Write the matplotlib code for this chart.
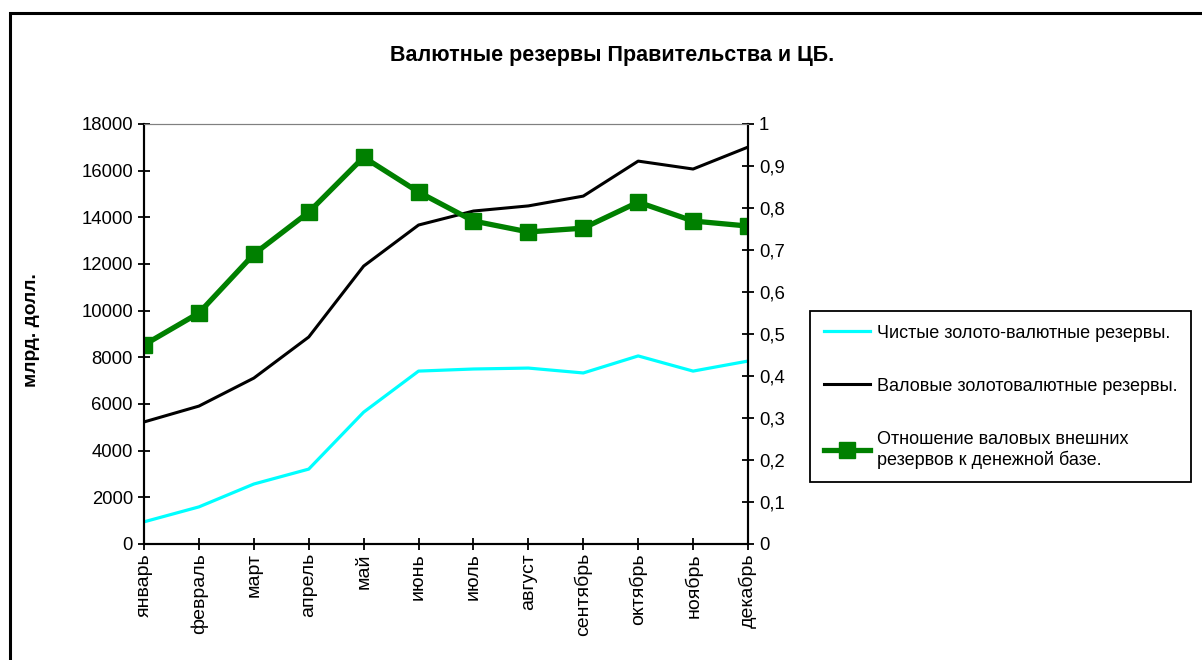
import matplotlib.pyplot as plt
from matplotlib.patches import Rectangle

plt.rcParams['font.family'] = ['Liberation Sans', 'DejaVu Sans']

months = ['январь', 'февраль', 'март', 'апрель', 'май', 'июнь',
          'июль', 'август', 'сентябрь', 'октябрь', 'ноябрь', 'декабрь']

# млрд. долл.
net_reserves = [950, 1590, 2570, 3210, 5650, 7410, 7500, 7540, 7330, 8060, 7410, 7840]
gross_reserves = [5230, 5910, 7110, 8870, 11910, 13670, 14270, 14490, 14910, 16410, 16070, 17010]
# отношение к денежной базе
ratio = [0.474, 0.55, 0.69, 0.79, 0.921, 0.838, 0.769, 0.743, 0.752, 0.814, 0.769, 0.757]

left_ticks = list(range(0, 18001, 2000))
right_ticks = [i / 10 for i in range(11)]
right_labels = ['0'] + ['0,%d' % i for i in range(1, 10)] + ['1']

fs = 13.3

fig = plt.figure(figsize=(12.02, 6.6), dpi=100)
fig.patches.append(Rectangle((10 / 1202, -0.1), 1.2, 1 - 13 / 660 + 0.1,
                             transform=fig.transFigure, fill=False,
                             edgecolor='black', linewidth=2.2))

ax = fig.add_axes([144 / 1202, 1 - 544 / 660, 604 / 1202, 420 / 660])
x = range(len(months))
l1, = ax.plot(x, net_reserves, color='#00FFFF', linewidth=2.3,
              label='Чистые золото-валютные резервы.')
l2, = ax.plot(x, gross_reserves, color='black', linewidth=2.2,
              label='Валовые золотовалютные резервы.')
ax.set_xlim(0, len(months) - 1)
ax.set_ylim(0, 18000)
ax.set_yticks(left_ticks)
ax.set_xticks(list(x))
ax.set_xticklabels(months, rotation=90, fontsize=14)
ax.tick_params(axis='y', labelsize=fs, direction='inout', length=9, width=1.3)
ax.tick_params(axis='x', direction='inout', length=9, width=1.3, pad=2)

ax2 = ax.twinx()
l3, = ax2.plot(x, ratio, color='#008000', linewidth=3.8, marker='s',
               markersize=12, label='Отношение валовых внешних\nрезервов к денежной базе.')
ax2.set_ylim(0, 1)
ax2.set_yticks(right_ticks)
ax2.set_yticklabels(right_labels)
ax2.tick_params(axis='y', labelsize=fs, direction='inout', length=9, width=1.3)

for a in (ax, ax2):
    a.spines['top'].set_color('#808080')
    a.spines['left'].set_linewidth(1.5)
    a.spines['right'].set_linewidth(1.5)
    a.spines['bottom'].set_linewidth(1.5)

fig.text(612 / 1202, 1 - 55 / 660, 'Валютные резервы Правительства и ЦБ.',
         ha='center', va='center', fontsize=15.5, fontweight='bold')
fig.text(31 / 1202, 1 - 330 / 660, 'млрд. долл.', rotation=90,
         ha='center', va='center', fontsize=13.8, fontweight='bold')

leg = fig.legend(handles=[l1, l2, l3], loc='upper left',
                 bbox_to_anchor=(810 / 1202, 1 - 311 / 660),
                 fontsize=13, frameon=True, fancybox=False, framealpha=1,
                 edgecolor='black', labelspacing=2.0, handlelength=2.6,
                 handletextpad=0.35, borderpad=0.75, borderaxespad=0)
leg.get_frame().set_linewidth(1.3)

plt.savefig('out.png', dpi=100)
